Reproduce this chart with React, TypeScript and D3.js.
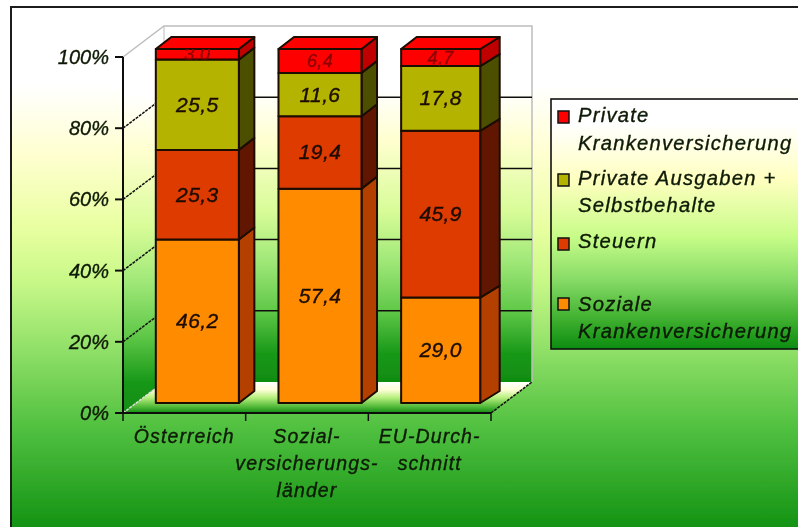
import React from "react";
import * as d3 from "d3";

const categories = ["Österreich", "Sozial-", "EU-Durch-"];
const categoryLines = [["Österreich"], ["Sozial-", "versicherungs-", "länder"], ["EU-Durch-", "schnitt"]];
const seriesKeys = ["sozial", "steuern", "ausgaben", "privat"];
const sozial = [46.2, 57.4, 29.0];
const steuern = [25.3, 19.4, 45.9];
const ausgaben = [25.5, 11.6, 17.8];
const privat = [3.0, 6.4, 4.7];
const yTicks = [0, 20, 40, 60, 80, 100];
const frontColors = ["#FF8C00", "#DD3B00", "#B3B300", "#FF0000"];
const sideColors = ["#B44000", "#601800", "#4D5000", "#C00000"];
const legendLines = [
  { color: "#FF0000", swatchY: 111, lines: [["Private", 122], ["Krankenversicherung", 150]] },
  { color: "#B3B300", swatchY: 174, lines: [["Private Ausgaben +", 185], ["Selbstbehalte", 212]] },
  { color: "#DD3B00", swatchY: 238, lines: [["Steuern", 248]] },
  { color: "#FF8C00", swatchY: 298, lines: [["Soziale", 311], ["Krankenversicherung", 338]] },
] as const;

const rows = categories.map((c, i) => ({ c, sozial: sozial[i], steuern: steuern[i], ausgaben: ausgaben[i], privat: privat[i] }));
const stacked = d3.stack<any>().keys(seriesKeys).offset(d3.stackOffsetExpand)(rows);

const W = 798, H = 527;
const axisX0 = 123, axisX1 = 491, axisY0 = 413, axisY1 = 57;
const wallDx = 41, wallDy = 31;
const barDx = 13, barDy = 10, sideDx = 15.5, sideDy = 12;
const rightInset = [0, 0, 4];

const x = d3.scaleBand<string>().domain(categories).range([axisX0, axisX1]).paddingInner(0.323).paddingOuter(0.1615);
const xOuter = d3.scaleBand<string>().domain(categories).range([axisX0, axisX1]);
const yPct = d3.scaleLinear().domain([0, 100]).range([axisY0, axisY1]);
const barY = d3.scaleLinear().domain([0, 1]).range([axisY0 - barDy, axisY1 - 8]);
const pts = (p: number[][]) => p.map((q) => q.join(",")).join(" ");
const font = "'Liberation Sans', Arial, sans-serif";

const bgStops: [number, string][] = [
  [0, "#ffffff"], [0.15, "#ffffff"], [0.28, "#ffffd0"], [0.42, "#e8ffa0"], [0.52, "#c8f888"],
  [0.65, "#90e068"], [0.8, "#50c040"], [1, "#109010"],
];

function Grad({ id, stops }: { id: string; stops: [number, string][] }) {
  return (
    <linearGradient id={id} x1="0" y1="0" x2="0" y2="1">
      {stops.map(([o, c], i) => <stop key={i} offset={o} stopColor={c} />)}
    </linearGradient>
  );
}

export default function App() {
  const txt = { fontFamily: font, fontStyle: "italic", fill: "#0c1a08", stroke: "#0c1a08", strokeWidth: 0.35 } as const;
  return (
    <svg width={W} height={H} style={{ position: "absolute", left: 0, top: 0, display: "block" }}>
      <defs>
        <Grad id="bg" stops={bgStops} />
        <Grad id="leg" stops={[[0, "#ffffff"], [0.1, "#ffffff"], [0.32, "#ffffc0"], [0.55, "#c8fc88"], [0.72, "#88dc68"], [0.88, "#40b030"], [1, "#0c8c10"]]} />
        <Grad id="wall" stops={[[0, "#ffffff"], [0.18, "#ffffff"], [0.32, "#ffffd0"], [0.52, "#d8fc98"], [0.66, "#a0e878"], [0.8, "#60c848"], [0.92, "#189818"], [1, "#108c10"]]} />
        <Grad id="floor" stops={[[0, "#ffffff"], [0.25, "#ffffd8"], [0.5, "#b8f080"], [0.8, "#50b838"], [1, "#108c10"]]} />
        <filter id="soft" x="-5%" y="-5%" width="110%" height="110%"><feGaussianBlur stdDeviation="0.45" /></filter>
        <filter id="softT" x="-5%" y="-5%" width="110%" height="110%"><feGaussianBlur stdDeviation="0.55" /></filter>
        {stacked[3].map((d, i) => {
          const yT = barY(d[1]), yB = barY(d[0]);
          return <clipPath key={i} id={`clip${i}`}><rect x={0} y={yT} width={W} height={yB - yT} /></clipPath>;
        })}
      </defs>
      <g filter="url(#soft)">
        <rect x={11} y={7} width={W} height={H} fill="url(#bg)" />
        <path d={`M11,${H} V7 H${W}`} fill="none" stroke="#1a1a1a" strokeWidth={2} />

        <polygon points={pts([[axisX0 + wallDx, axisY1 - wallDy], [axisX1 + wallDx, axisY1 - wallDy], [axisX1 + wallDx, axisY0 - wallDy], [axisX0 + wallDx, axisY0 - wallDy]])} fill="url(#wall)" />
        <polygon points={pts([[axisX0, axisY1], [axisX0 + wallDx, axisY1 - wallDy], [axisX0 + wallDx, axisY0 - wallDy], [axisX0, axisY0]])} fill="url(#wall)" />
        <polygon points={pts([[axisX0, axisY0], [axisX0 + wallDx, axisY0 - wallDy], [axisX1 + wallDx, axisY0 - wallDy], [axisX1, axisY0]])} fill="url(#floor)" />
        <path d={`M${axisX0},${axisY1} L${axisX0 + wallDx},${axisY1 - wallDy} H${axisX1 + wallDx} V${axisY0 - wallDy}`} fill="none" stroke="#bdbdbd" strokeWidth={1.5} />
        <line x1={axisX0 + wallDx} y1={axisY1 - wallDy} x2={axisX0 + wallDx} y2={axisY0 - wallDy} stroke="#bdbdbd" strokeWidth={1} />

        {yTicks.filter((t) => t > 0 && t < 100).map((t) => (
          <g key={t} stroke="#111" strokeWidth={1.5} fill="none">
            <line x1={axisX0} y1={yPct(t)} x2={axisX0 + wallDx} y2={yPct(t) - wallDy} strokeDasharray="3 1" />
            <line x1={axisX0 + wallDx} y1={yPct(t) - wallDy} x2={axisX1 + wallDx} y2={yPct(t) - wallDy} />
          </g>
        ))}
        <line x1={axisX1} y1={axisY0} x2={axisX1 + wallDx} y2={axisY0 - wallDy} stroke="#111" strokeWidth={1.5} strokeDasharray="3 1" />
        <line x1={axisX0} y1={axisY0} x2={axisX0 + wallDx} y2={axisY0 - wallDy} stroke="#ddd" strokeWidth={1.5} strokeDasharray="3 1" />

        <path d={`M${axisX0},${axisY1} V${axisY0} H${axisX1}`} fill="none" stroke="#111" strokeWidth={2} />
        {yTicks.map((t) => <line key={t} x1={axisX0 - 8} x2={axisX0} y1={yPct(t)} y2={yPct(t)} stroke="#111" strokeWidth={2} />)}
        {[...categories.map((c) => xOuter(c)!), axisX1].map((v) => <line key={v} x1={v} x2={v} y1={axisY0} y2={axisY0 + 8} stroke="#111" strokeWidth={1.5} />)}

        {categories.map((c, i) => {
          const x0 = x(c)! + barDx;
          const backR = x0 + x.bandwidth() + sideDx;
          const x1 = x0 + x.bandwidth() - rightInset[i];
          return (
            <g key={c} stroke="#1a0a00" strokeWidth={2} strokeLinejoin="round">
              {stacked.map((s, k) => {
                const yT = barY(s[i][1]), yB = barY(s[i][0]);
                return (
                  <g key={k}>
                    <polygon points={pts([[x1, yB], [backR, yB - sideDy], [backR, yT - sideDy], [x1, yT]])} fill={sideColors[k]} />
                    <rect x={x0} y={yT} width={x1 - x0} height={yB - yT} fill={frontColors[k]} />
                  </g>
                );
              })}
              <polygon points={pts([[x0, barY(1)], [x0 + sideDx, barY(1) - sideDy], [backR, barY(1) - sideDy], [x1, barY(1)]])} fill="#FF0000" />
            </g>
          );
        })}

        <rect x={551} y={99} width={W} height={250} fill="url(#leg)" stroke="#111" strokeWidth={1.6} />
        {legendLines.map((l) => <rect key={l.swatchY} x={558} y={l.swatchY} width={11} height={12} fill={l.color} stroke="#111" strokeWidth={1.5} />)}
      </g>

      <g filter="url(#softT)">
        {yTicks.map((t) => (
          <text key={t} {...txt} x={109} y={yPct(t) + 7} textAnchor="end" fontSize={20}>{t}%</text>
        ))}
        {categoryLines.map((lines, i) => lines.map((ln, j) => (
          <text key={ln} {...txt} x={xOuter(categories[i])! + xOuter.bandwidth() / 2} y={443 + j * 27} textAnchor="middle" letterSpacing={1.1} fontSize={19.5}>{ln}</text>
        )))}
        {legendLines.map((l) => l.lines.map(([t, by]) => (
          <text key={t + by} {...txt} x={578} y={by} letterSpacing={1.25} fontSize={20.2}>{t}</text>
        )))}
        {categories.map((c, i) => stacked.map((s, k) => {
          const val = (s[i].data as any)[seriesKeys[k]] as number;
          const isRed = k === 3;
          const col = isRed ? "#8c0000" : "#1a0a00";
          return (
            <text key={c + k} {...txt} x={x(c)! + barDx + (x.bandwidth() - rightInset[i]) / 2}
              y={(barY(s[i][0]) + barY(s[i][1])) / 2 + (isRed ? 6 : 7)} textAnchor="middle"
              fontSize={isRed ? 18 : 21} fill={col} stroke={col} letterSpacing={0.4}
              clipPath={isRed ? `url(#clip${i})` : undefined}>
              {val.toFixed(1).replace(".", ",")}
            </text>
          );
        }))}
      </g>
    </svg>
  );
}
